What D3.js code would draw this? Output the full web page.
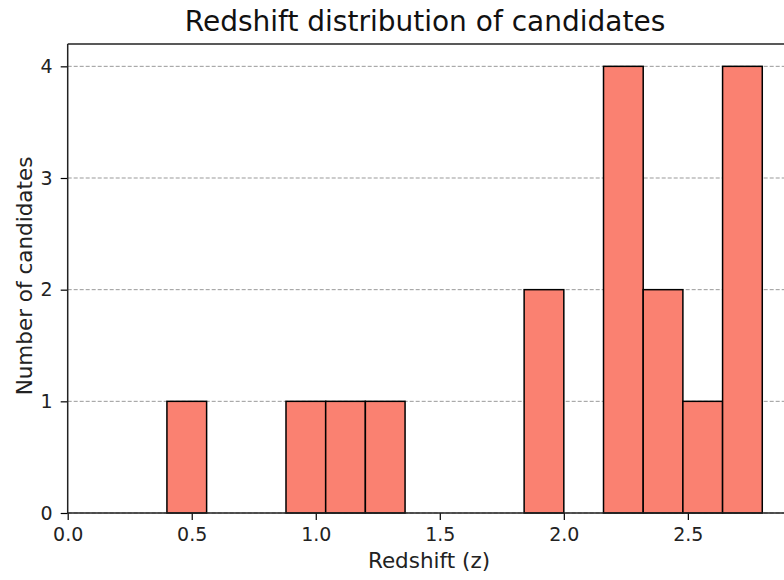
<!DOCTYPE html>
<html>
<head>
<meta charset="utf-8">
<script src="https://cdn.jsdelivr.net/npm/d3@7"></script>
<style>
  html, body { margin: 0; padding: 0; background: #fff; }
  svg { display: block; font-family: "DejaVu Sans", sans-serif; }
</style>
</head>
<body>
<svg id="chart" width="784" height="580"></svg>
<script>
// Histogram bins of candidate redshifts (15 equal-width bins from 0.40 to 2.80)
const binEdges = [0.40, 0.56, 0.72, 0.88, 1.04, 1.20, 1.36, 1.52, 1.68, 1.84, 2.00, 2.16, 2.32, 2.48, 2.64, 2.80];
const binCounts = [1, 0, 0, 1, 1, 1, 0, 0, 0, 2, 0, 4, 2, 1, 4];
const xTicks = [0.0, 0.5, 1.0, 1.5, 2.0, 2.5];
const yTicks = [0, 1, 2, 3, 4];

const svg = d3.select("#chart");
const plotLeft = 67.7, plotRight = 797, plotTop = 44, plotBottom = 513;

const x = d3.scaleLinear().domain([0, 2.94]).range([plotLeft, plotRight]);
const y = d3.scaleLinear().domain([0, 4.2]).range([plotBottom, plotTop]);

const bins = binCounts.map((c, i) => ({ x0: binEdges[i], x1: binEdges[i + 1], count: c }));

// horizontal dashed grid
svg.append("g")
  .selectAll("line")
  .data(yTicks)
  .join("line")
  .attr("x1", plotLeft).attr("x2", plotRight)
  .attr("y1", d => y(d)).attr("y2", d => y(d))
  .attr("stroke", "#999")
  .attr("stroke-width", 1)
  .attr("stroke-dasharray", "4,2");

// bars
svg.append("g")
  .selectAll("rect")
  .data(bins.filter(b => b.count > 0))
  .join("rect")
  .attr("x", d => x(d.x0))
  .attr("y", d => y(d.count))
  .attr("width", d => x(d.x1) - x(d.x0))
  .attr("height", d => y(0) - y(d.count))
  .attr("fill", "#fa8171")
  .attr("stroke", "#000")
  .attr("stroke-width", 1.5);

// axes
const xAxis = d3.axisBottom(x).tickValues(xTicks).tickFormat(d3.format(".1f")).tickSizeOuter(0).tickSize(7).tickPadding(8);
const yAxis = d3.axisLeft(y).tickValues(yTicks).tickFormat(d3.format("d")).tickSizeOuter(0).tickSize(7).tickPadding(8);

const gx = svg.append("g").attr("transform", `translate(0,${plotBottom})`).call(xAxis);
const gy = svg.append("g").attr("transform", `translate(${plotLeft},0)`).call(yAxis);
[gx, gy].forEach(g => {
  g.select(".domain").remove();
  g.selectAll("line").attr("stroke", "#000").attr("stroke-width", 1.2);
  g.selectAll("text").attr("fill", "#222").style("font-size", "19px").style("font-family", "'DejaVu Sans', sans-serif");
});

// spines (left, bottom, top)
svg.append("line").attr("x1", plotLeft).attr("x2", plotLeft).attr("y1", plotTop).attr("y2", plotBottom).attr("stroke", "#222").attr("stroke-width", 1.5);
svg.append("line").attr("x1", plotLeft).attr("x2", plotRight).attr("y1", plotBottom).attr("y2", plotBottom).attr("stroke", "#222").attr("stroke-width", 1.5);
svg.append("line").attr("x1", plotLeft).attr("x2", plotRight).attr("y1", plotTop).attr("y2", plotTop).attr("stroke", "#222").attr("stroke-width", 1.5);

// title and axis labels
svg.append("text")
  .attr("x", 425).attr("y", 31)
  .attr("text-anchor", "middle")
  .attr("fill", "#111")
  .style("font-size", "28px")
  .text("Redshift distribution of candidates");

svg.append("text")
  .attr("x", 429).attr("y", 568)
  .attr("text-anchor", "middle")
  .attr("fill", "#222")
  .style("font-size", "21.5px")
  .text("Redshift (z)");

svg.append("text")
  .attr("transform", "translate(32,276) rotate(-90)")
  .attr("text-anchor", "middle")
  .attr("fill", "#222")
  .style("font-size", "21.5px")
  .text("Number of candidates");
</script>
</body>
</html>
